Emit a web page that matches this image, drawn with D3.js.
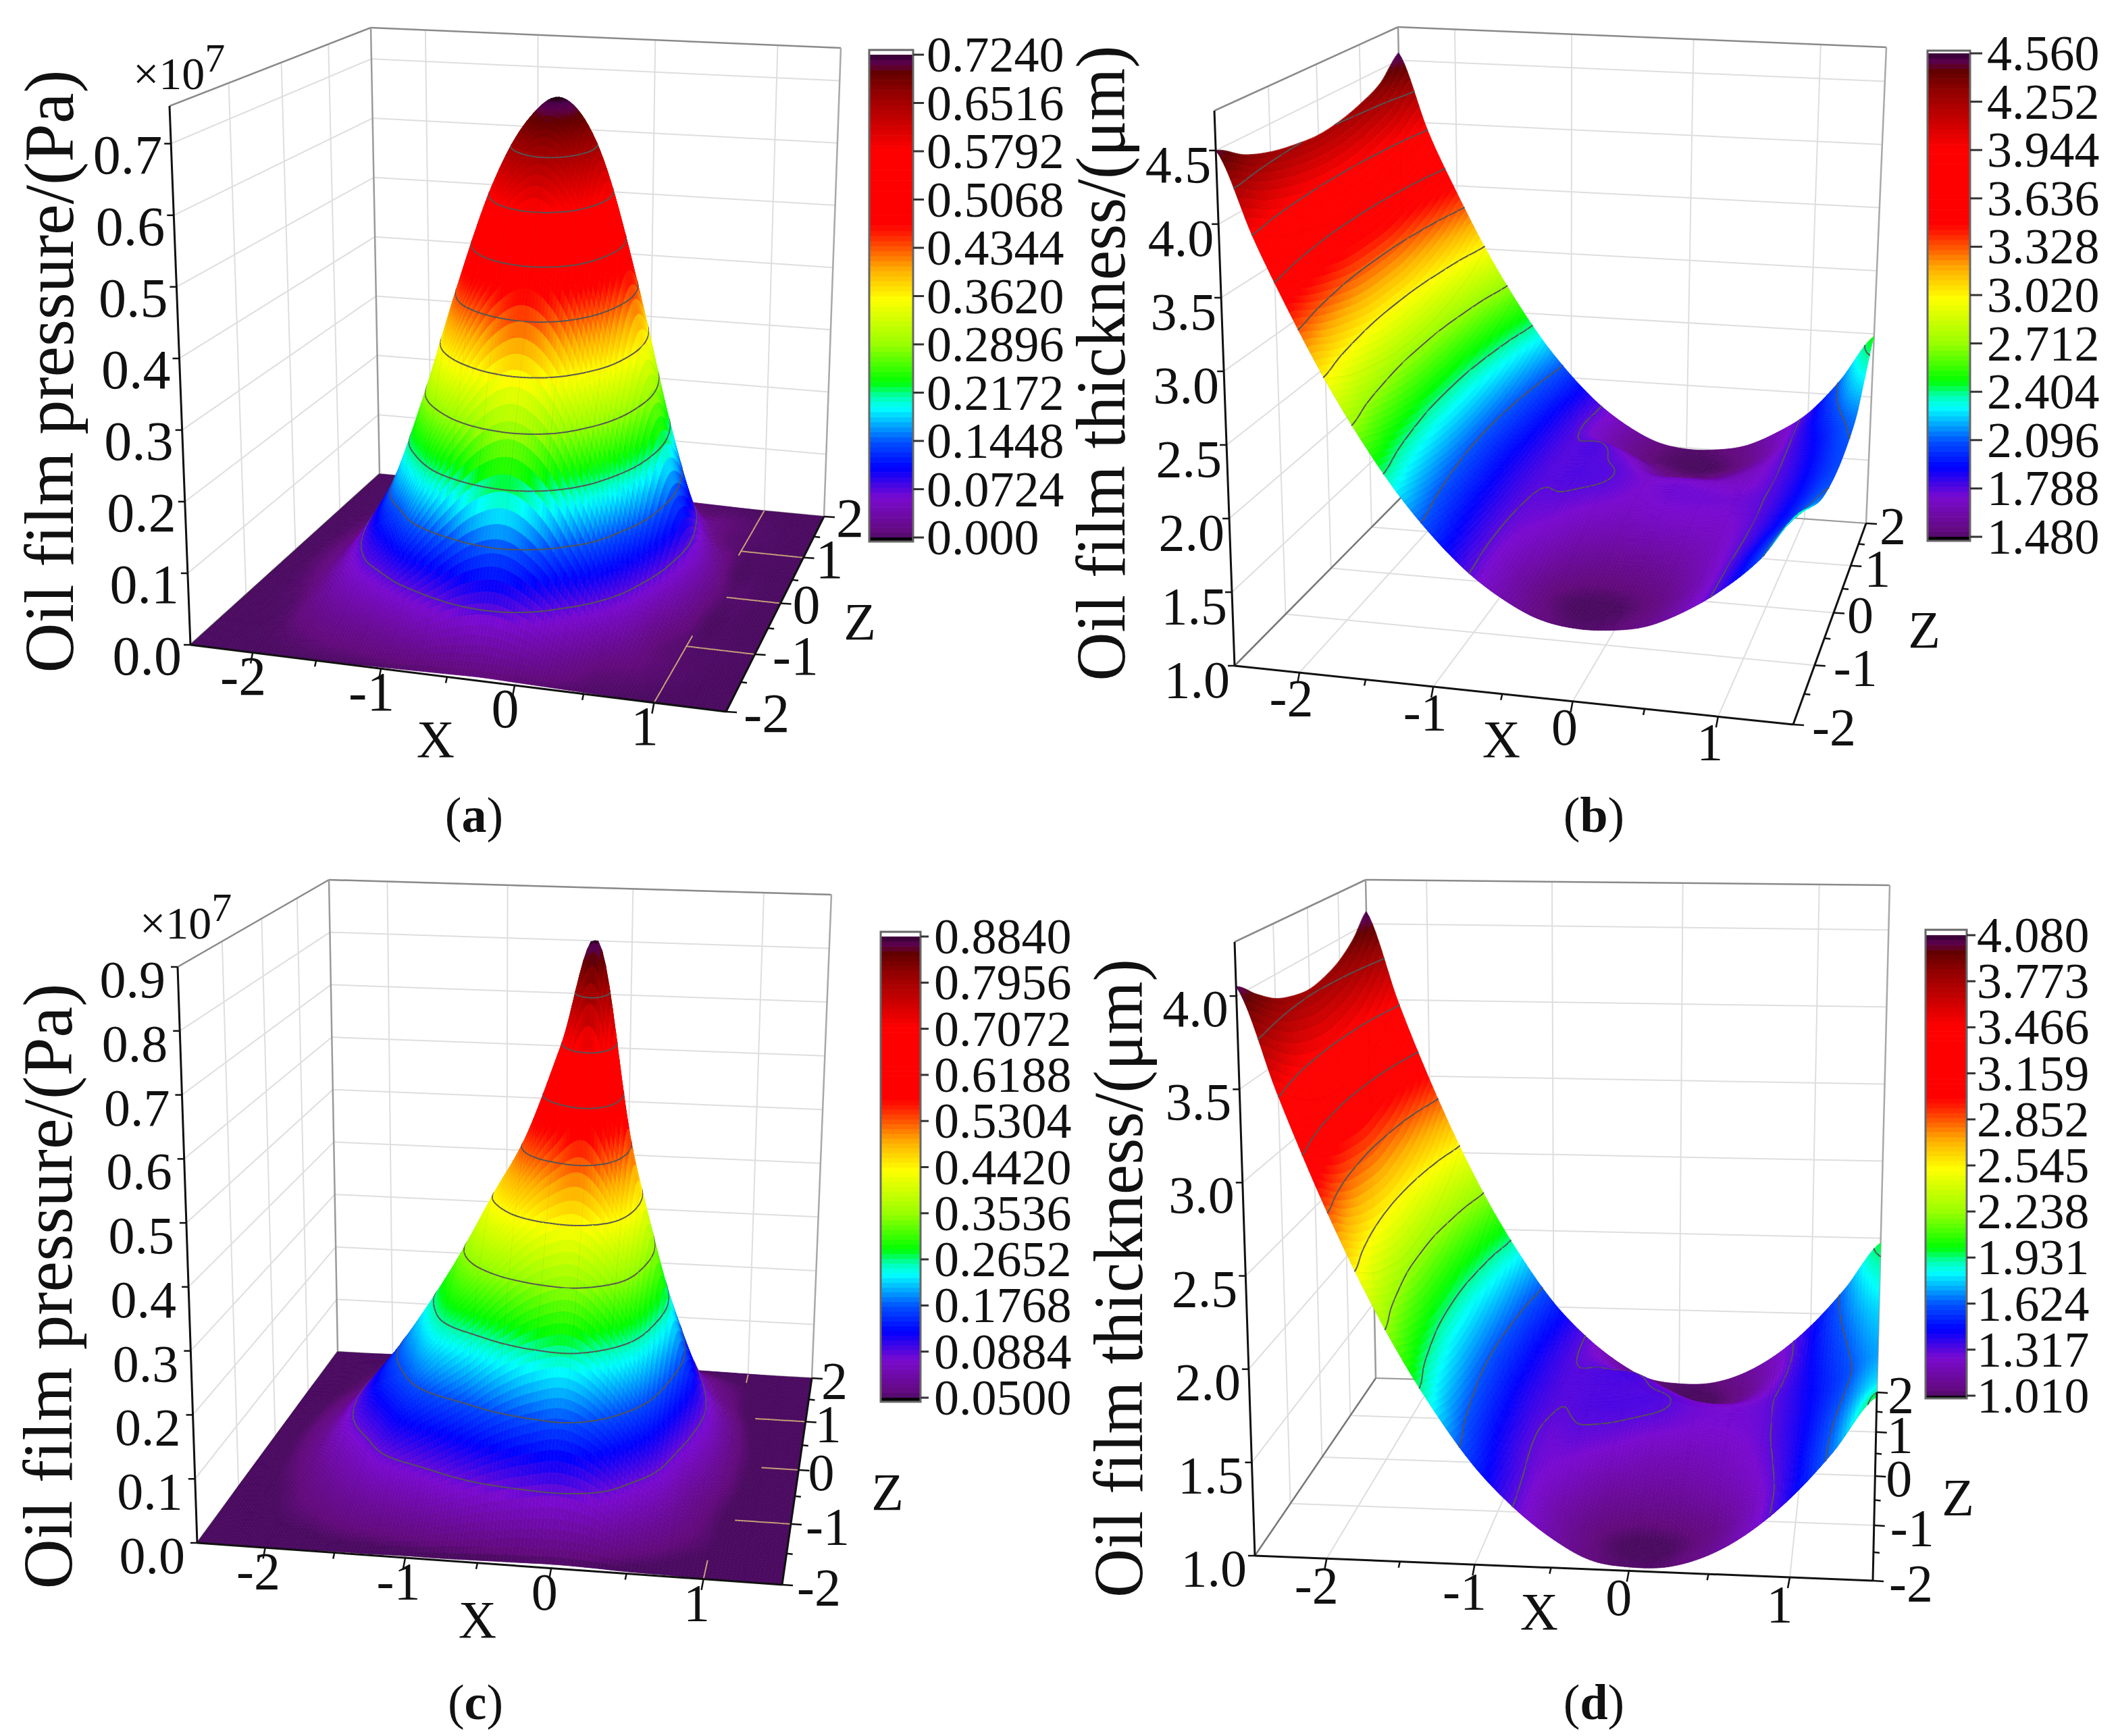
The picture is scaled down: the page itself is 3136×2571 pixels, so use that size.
<!DOCTYPE html>
<html>
<head>
<meta charset="utf-8">
<script src="https://cdn.jsdelivr.net/npm/d3@7"></script>
<style>
    body { margin: 0; background: #fff; }
    text { font-family: "Liberation Serif", serif; fill: #111; }
</style>
</head>
<body>
<script>
// grid of the surfaces: one row per z value, one column per x value
var xValues = [-2.5, -2.25, -2, -1.75, -1.5, -1.25, -1, -0.75, -0.5, -0.25, 0, 0.25, 0.5, 0.75, 1, 1.25, 1.5];
var zValues = [-2, -1.5, -1, -0.5, 0, 0.5, 1, 1.5, 2];

var pressureA = [
    [0, 0, 0, 0, .001, .001, .002, .003, .004, .005, .004, .003, .002, .001, 0, 0, 0],
    [0, 0, .002, .010, .022, .035, .060, .094, .127, .138, .112, .062, .020, .008, .003, .001, 0],
    [0, .001, .006, .035, .072, .123, .215, .304, .369, .391, .348, .239, .109, .020, .003, .001, 0],
    [0, .002, .015, .060, .130, .246, .384, .510, .597, .628, .568, .416, .224, .065, .006, .001, 0],
    [0, .003, .020, .080, .165, .297, .456, .597, .689, .724, .659, .491, .275, .091, .012, .002, 0],
    [0, .002, .015, .060, .130, .246, .384, .510, .597, .628, .568, .416, .224, .065, .006, .001, 0],
    [0, .001, .006, .035, .072, .123, .215, .304, .369, .391, .348, .239, .109, .020, .003, .001, 0],
    [0, 0, .002, .010, .022, .035, .060, .094, .127, .138, .112, .062, .020, .008, .003, .001, 0],
    [0, 0, 0, 0, .001, .001, .002, .003, .004, .005, .004, .003, .002, .001, 0, 0, 0]
];
var thicknessB = [
    [4.50, 3.93, 3.44, 3.00, 2.62, 2.29, 2.02, 1.80, 1.64, 1.53, 1.49, 1.50, 1.55, 1.67, 1.84, 2.07, 2.40],
    [4.375, 3.825, 3.335, 2.90, 2.53, 2.22, 1.975, 1.78, 1.63, 1.51, 1.48, 1.49, 1.54, 1.66, 1.83, 2.03, 2.27],
    [4.30, 3.75, 3.26, 2.835, 2.47, 2.17, 1.945, 1.78, 1.70, 1.60, 1.56, 1.57, 1.61, 1.69, 1.81, 1.97, 2.15],
    [4.26, 3.70, 3.21, 2.79, 2.43, 2.14, 1.93, 1.79, 1.76, 1.70, 1.67, 1.69, 1.70, 1.72, 1.80, 1.94, 2.09],
    [4.24, 3.69, 3.20, 2.78, 2.42, 2.13, 1.92, 1.80, 1.80, 1.78, 1.73, 1.75, 1.75, 1.75, 1.80, 1.93, 2.07],
    [4.26, 3.70, 3.21, 2.79, 2.43, 2.14, 1.93, 1.80, 1.80, 1.78, 1.72, 1.72, 1.71, 1.72, 1.80, 1.94, 2.09],
    [4.31, 3.75, 3.26, 2.835, 2.47, 2.17, 1.945, 1.80, 1.79, 1.70, 1.57, 1.56, 1.60, 1.69, 1.81, 1.97, 2.15],
    [4.39, 3.825, 3.335, 2.90, 2.53, 2.22, 1.975, 1.78, 1.63, 1.53, 1.49, 1.48, 1.52, 1.64, 1.83, 2.05, 2.32],
    [4.56, 3.93, 3.44, 3.00, 2.62, 2.29, 2.02, 1.80, 1.64, 1.53, 1.49, 1.50, 1.55, 1.67, 1.84, 2.12, 2.48]
];
var pressureC = [
    [0, 0, .001, .001, .002, .002, .003, .003, .004, .005, .006, .005, .003, .002, .001, 0, 0],
    [0, .002, .008, .016, .032, .049, .070, .098, .125, .145, .155, .128, .066, .024, .008, .001, 0],
    [.001, .005, .016, .044, .084, .141, .186, .225, .274, .309, .318, .265, .168, .053, .011, 0, 0],
    [.001, .008, .030, .084, .146, .208, .292, .371, .451, .513, .539, .438, .248, .097, .022, .001, 0],
    [.001, .010, .036, .097, .165, .245, .336, .442, .548, .707, .884, .530, .292, .124, .027, .002, 0],
    [.001, .008, .030, .084, .146, .208, .292, .371, .451, .513, .539, .438, .248, .097, .022, .001, 0],
    [.001, .005, .016, .044, .084, .141, .186, .225, .274, .309, .318, .265, .168, .053, .011, 0, 0],
    [0, .002, .008, .016, .032, .049, .070, .098, .125, .145, .155, .128, .066, .024, .008, .001, 0],
    [0, 0, .001, .001, .002, .002, .003, .003, .004, .005, .006, .005, .003, .002, .001, 0, 0]
];
var thicknessD = [
    [4.05, 3.49, 2.98, 2.53, 2.14, 1.81, 1.53, 1.32, 1.16, 1.05, 1.02, 1.03, 1.10, 1.23, 1.42, 1.67, 1.97],
    [3.95, 3.38, 2.87, 2.43, 2.05, 1.74, 1.49, 1.31, 1.16, 1.05, 1.01, 1.02, 1.08, 1.22, 1.42, 1.65, 1.88],
    [3.865, 3.295, 2.79, 2.36, 1.99, 1.70, 1.46, 1.30, 1.24, 1.14, 1.11, 1.12, 1.17, 1.26, 1.42, 1.62, 1.80],
    [3.82, 3.25, 2.75, 2.31, 1.95, 1.67, 1.45, 1.30, 1.30, 1.27, 1.21, 1.20, 1.23, 1.29, 1.42, 1.59, 1.75],
    [3.80, 3.23, 2.73, 2.30, 1.94, 1.66, 1.44, 1.32, 1.33, 1.33, 1.31, 1.27, 1.27, 1.30, 1.42, 1.57, 1.72],
    [3.82, 3.25, 2.75, 2.31, 1.95, 1.67, 1.45, 1.33, 1.33, 1.33, 1.32, 1.27, 1.26, 1.30, 1.42, 1.59, 1.75],
    [3.865, 3.295, 2.79, 2.36, 1.99, 1.70, 1.46, 1.33, 1.33, 1.32, 1.22, 1.13, 1.15, 1.26, 1.42, 1.62, 1.80],
    [3.95, 3.38, 2.87, 2.43, 2.05, 1.74, 1.49, 1.32, 1.25, 1.10, 1.03, 1.01, 1.07, 1.22, 1.42, 1.65, 1.88],
    [4.08, 3.49, 2.98, 2.53, 2.14, 1.81, 1.53, 1.32, 1.16, 1.05, 1.02, 1.03, 1.10, 1.23, 1.42, 1.67, 1.97]
];

// colour bar labels, bottom to top
var barLabelsA = ["0.000", "0.0724", "0.1448", "0.2172", "0.2896", "0.3620", "0.4344", "0.5068", "0.5792", "0.6516", "0.7240"];
var barLabelsB = ["1.480", "1.788", "2.096", "2.404", "2.712", "3.020", "3.328", "3.636", "3.944", "4.252", "4.560"];
var barLabelsC = ["0.0500", "0.0884", "0.1768", "0.2652", "0.3536", "0.4420", "0.5304", "0.6188", "0.7072", "0.7956", "0.8840"];
var barLabelsD = ["1.010", "1.317", "1.624", "1.931", "2.238", "2.545", "2.852", "3.159", "3.466", "3.773", "4.080"];

// axis ticks
var xTicks = [-2, -1, 0, 1];
var xMinorTicks = [-1.5, -0.5, 0.5];
var zTicks = [-2, -1, 0, 1, 2];
var zMinorTicks = [-1.5, -0.5, 0.5, 1.5];
var pressureTicksA = [0, 0.1, 0.2, 0.3, 0.4, 0.5, 0.6, 0.7];
var pressureTicksC = [0, 0.1, 0.2, 0.3, 0.4, 0.5, 0.6, 0.7, 0.8, 0.9];
var thicknessTicksB = [1, 1.5, 2, 2.5, 3, 3.5, 4, 4.5];
var thicknessTicksD = [1, 1.5, 2, 2.5, 3, 3.5, 4];

// rainbow used by all four colour bars
var colorStops = [0, .01, .083, .144, .198, .23, .268, .292, .322, .40, .494, .554, .594, .628, .648, .803, .87, .924, .965, .98, .992, 1];
var colorNames = ["#4a0a60", "#620a7c", "#7a0ad0", "#0000ff", "#0050ff", "#00a0ff", "#00ffff", "#00ffb0", "#00ff00", "#99ff00", "#ffff00",
    "#ffb000", "#ff6000", "#ff2000", "#ff0000", "#ff0000", "#c00000", "#900000", "#600000", "#5e0048", "#500050", "#200010"];

var panels = [
    {
        grid: pressureA, barLabels: barLabelsA, yTicks: pressureTicksA, yDomain: [0, 0.7526], yFormat: d3.format(".1f"),
        colorDomain: [0, 0.724], flatFloor: true, title: "Oil film pressure/(Pa)", caption: "a",
        fl: [282, 955], fr: [1075, 1054], bl: [562, 702], br: [1220, 765],
        flTop: [251, 157], frTop: [1100, 223], blTop: [549, 41], brTop: [1245, 71],
        bar: { x0: 1287, x1: 1352, top: 74, bottom: 802, tickTop: 81, tickBottom: 796, tickEnd: 1368, labelX: 1372 },
        titlePos: [108, 550], titleLen: 893, yLabel: [-13, 44], xLabel: [-14, 62], zLabel: [18, 30], tickFont: 82,
        xTitle: [645, 1121], zTitle: [1273, 947], exponent: [197, 132], captionPos: [702, 1232]
    },
    {
        grid: thicknessB, barLabels: barLabelsB, yTicks: thicknessTicksB, yDomain: [1, 4.77], yFormat: d3.format(".1f"),
        colorDomain: [1.48, 4.56], flatFloor: false, title: "Oil film thickness/(\u03bcm)", caption: "b",
        fl: [1828, 986], fr: [2655, 1073], bl: [2085, 726], br: [2763, 775],
        flTop: [1798, 164], frTop: [2683, 232], blTop: [2070, 40], brTop: [2793, 70],
        bar: { x0: 2854, x1: 2917, top: 75, bottom: 801, tickTop: 79, tickBottom: 795, tickEnd: 2935, labelX: 2942 },
        titlePos: [1665, 538], titleLen: 941, yLabel: [-7, 47], xLabel: [-12, 64], zLabel: [20, 30], tickFont: 78,
        xTitle: [2223, 1121], zTitle: [2849, 959], captionPos: [2360, 1232]
    },
    {
        grid: pressureC, barLabels: barLabelsC, yTicks: pressureTicksC, yDomain: [0, 0.9], yFormat: d3.format(".1f"),
        colorDomain: [0.006, 0.884], flatFloor: true, title: "Oil film pressure/(Pa)", caption: "c",
        fl: [292, 2285], fr: [1158, 2347], bl: [500, 2002], br: [1202, 2041],
        flTop: [263, 1432], frTop: [1185, 1477], blTop: [487, 1303], brTop: [1231, 1325],
        bar: { x0: 1304, x1: 1363, top: 1380, bottom: 2076, tickTop: 1387, tickBottom: 2070, tickEnd: 1375, labelX: 1383 },
        titlePos: [106, 1905], titleLen: 897, yLabel: [-18, 45], xLabel: [-10, 61], zLabel: [14, 30], tickFont: 78,
        xTitle: [707, 2425], zTitle: [1314, 2236], exponent: [207, 1390], captionPos: [704, 2546]
    },
    {
        grid: thicknessD, barLabels: barLabelsD, yTicks: thicknessTicksD, yDomain: [1, 4.29], yFormat: d3.format(".1f"),
        colorDomain: [1.01, 4.08], flatFloor: false, title: "Oil film thickness/(\u03bcm)", caption: "d",
        fl: [1858, 2304], fr: [2773, 2341], bl: [2037, 2041], br: [2779, 2062],
        flTop: [1828, 1395], frTop: [2790, 1419], blTop: [2022, 1303], brTop: [2798, 1311],
        bar: { x0: 2851, x1: 2912, top: 1377, bottom: 2071, tickTop: 1385, tickBottom: 2067, tickEnd: 2925, labelX: 2927 },
        titlePos: [1691, 1893], titleLen: 946, yLabel: [-12, 45], xLabel: [-15, 66], zLabel: [16, 30], tickFont: 78,
        xTitle: [2279, 2413], zTitle: [2899, 2244], captionPos: [2360, 2546]
    }
];

var bands = 96;
var rainbow = d3.scaleLinear().domain(colorStops).range(colorNames).clamp(true);

var svg = d3.select("body").append("svg")
    .attr("width", 3136)
    .attr("height", 2571)
    .style("display", "block");

function bend(u, w) { return u * w / (1 + u * (w - 1)); }
function mix(a, b, t) { return [a[0] + (b[0] - a[0]) * t, a[1] + (b[1] - a[1]) * t]; }

/// builds the box projection of a panel, from the eight corners of its box
function makeProjection(p) {
    var xScale = d3.scaleLinear().domain([-2.5, 1.5]).range([0, 1]),
        zScale = d3.scaleLinear().domain([-2, 2]).range([0, 1]),
        yScale = d3.scaleLinear().domain(p.yDomain).range([0, 1]);
    return function(x, y, z) {
        var u = bend(xScale(x), 0.92),
            v = bend(zScale(z), 1.25),
            low = mix(mix(p.fl, p.fr, u), mix(p.bl, p.br, u), v),
            high = mix(mix(p.flTop, p.frTop, u), mix(p.blTop, p.brTop, u), v);
        return mix(low, high, yScale(y));
    };
}

function catmull(a, b, c, d, t) {
    return 0.5 * (2 * b + (c - a) * t + (2 * a - 5 * b + 4 * c - d) * t * t + (3 * b - a - 3 * c + d) * t * t * t);
}

/// shading value between the grid nodes, used for painting only
function surfaceAt(grid, col, row) {
    var c = Math.min(Math.floor(col), xValues.length - 2),
        r = Math.min(Math.floor(row), zValues.length - 2),
        rowValues = [];
    function at(i, j) {
        return grid[Math.max(0, Math.min(zValues.length - 1, i))][Math.max(0, Math.min(xValues.length - 1, j))];
    }
    for (var i = r - 1; i <= r + 2; ++i) {
        rowValues.push(catmull(at(i, c - 1), at(i, c), at(i, c + 1), at(i, c + 2), col - c));
    }
    return catmull(rowValues[0], rowValues[1], rowValues[2], rowValues[3], row - r);
}

function line(g, a, b, color, width) {
    g.append("line")
        .attr("x1", a[0]).attr("y1", a[1])
        .attr("x2", b[0]).attr("y2", b[1])
        .attr("stroke", color)
        .attr("stroke-width", width);
}

function drawWalls(g, p, project) {
    var gridColor = "#dedede", yTop = p.yDomain[1], yLow = p.yDomain[0];
    p.yTicks.forEach(function(t) {
        line(g, project(-2.5, t, -2), project(-2.5, t, 2), gridColor, 2);
        line(g, project(-2.5, t, 2), project(1.5, t, 2), gridColor, 2);
    });
    xTicks.forEach(function(t) {
        line(g, project(t, yLow, 2), project(t, yTop, 2), gridColor, 2);
        line(g, project(t, yLow, -2), project(t, yLow, 2), gridColor, 2);
    });
    zTicks.slice(1, -1).forEach(function(t) {
        line(g, project(-2.5, yLow, t), project(-2.5, yTop, t), gridColor, 2);
        line(g, project(-2.5, yLow, t), project(1.5, yLow, t), gridColor, 2);
    });
    line(g, p.flTop, p.blTop, "#8a8a8a", 2.5);
    line(g, p.blTop, p.brTop, "#8a8a8a", 2.5);
    line(g, p.blTop, p.bl, "#9a9a9a", 2.5);
    line(g, p.brTop, p.br, "#a8a8a8", 2.5);
    line(g, p.fl, p.bl, "#777", 2.5);
    line(g, p.bl, p.br, "#999", 2);
}

function drawSurface(g, p, project) {
    var subX = 10, subZ = 12,
        nx = (xValues.length - 1) * subX,
        nz = (zValues.length - 1) * subZ,
        xOf = d3.scaleLinear().domain([0, nx]).range([-2.5, 1.5]),
        zOf = d3.scaleLinear().domain([0, nz]).range([-2, 2]),
        lo = d3.min(p.grid, function(r) { return d3.min(r); }),
        hi = d3.max(p.grid, function(r) { return d3.max(r); }),
        fracOf = d3.scaleLinear().domain(p.colorDomain).range([0, 1]).clamp(true),
        levels = p.barLabels.slice(1, -1).map(Number),
        values = [], points = [], marks = [];

    for (var j = 0; j <= nz; ++j) {
        values.push([]);
        points.push([]);
        for (var i = 0; i <= nx; ++i) {
            var v = Math.max(lo, Math.min(hi, surfaceAt(p.grid, i / subX, j / subZ)));
            values[j].push(v);
            points[j].push(project(xOf(i), v, zOf(j)));
        }
    }

    function fmt(pt) { return pt[0].toFixed(1) + "," + pt[1].toFixed(1); }

    // paint from the far corner to the near one
    for (j = nz - 1; j >= 0; --j) {
        for (i = 0; i < nx; ++i) {
            var a = points[j][i], b = points[j][i + 1], c = points[j + 1][i + 1], d = points[j + 1][i],
                va = values[j][i], vb = values[j][i + 1], vc = values[j + 1][i + 1], vd = values[j + 1][i],
                mean = (va + vb + vc + vd) / 4;
            marks.push({ d: "M" + fmt(a) + "L" + fmt(b) + "L" + fmt(c) + "L" + fmt(d) + "Z", color: rainbow(fracOf(mean)) });

            if (i % subX === 0) {
                marks.push({ d: "M" + fmt(a) + "L" + fmt(d), line: true, stroke: "rgba(0,0,0,0.05)", width: 1 });
            }
            if (j % subZ === 0) {
                marks.push({ d: "M" + fmt(a) + "L" + fmt(b), line: true, stroke: "rgba(0,0,0,0.05)", width: 1 });
            }
            levels.forEach(function(level) {
                var hits = [];
                function edge(p0, p1, v0, v1) {
                    if ((v0 < level) !== (v1 < level)) {
                        hits.push(mix(p0, p1, (level - v0) / (v1 - v0)));
                    }
                }
                edge(a, b, va, vb); edge(b, c, vb, vc); edge(c, d, vc, vd); edge(d, a, vd, va);
                if (hits.length >= 2) {
                    marks.push({ d: "M" + fmt(hits[0]) + "L" + fmt(hits[1]), line: true, stroke: "#555", width: 2 });
                }
            });
        }
    }

    g.selectAll("path.cell")
        .data(marks)
        .join("path")
        .attr("class", "cell")
        .attr("d", function(m) { return m.d; })
        .attr("fill", function(m) { return m.line ? "none" : m.color; })
        .attr("stroke", function(m) { return m.line ? m.stroke : m.color; })
        .attr("stroke-width", function(m) { return m.line ? m.width : 0.7; })
        .attr("stroke-linecap", "round");

    // floor grid shows through where the film lies on the floor
    if (p.flatFloor) {
        var tan = "#c8a478";
        function floorLine(x0, z0, x1, z1) {
            for (var s = 0; s < 40; ++s) {
                var xa = x0 + (x1 - x0) * s / 40, za = z0 + (z1 - z0) * s / 40,
                    xb = x0 + (x1 - x0) * (s + 1) / 40, zb = z0 + (z1 - z0) * (s + 1) / 40;
                if (surfaceAt(p.grid, (xa + 2.5) * 4, (za + 2) * 2) < 0.0035) {
                    line(g, project(xa, 0, za), project(xb, 0, zb), tan, 2);
                }
            }
        }
        floorLine(1, -2, 1, 2);
        zTicks.slice(1, -1).forEach(function(t) { floorLine(0.75, t, 1.5, t); });
    }
}

function drawAxes(g, p, project) {
    var yLow = p.yDomain[0], axisColor = "#111";
    line(g, p.flTop, p.fl, axisColor, 3);
    line(g, p.fl, p.fr, axisColor, 3);
    line(g, p.fr, p.br, axisColor, 3);

    p.yTicks.forEach(function(t) {
        var pt = project(-2.5, t, -2);
        line(g, pt, [pt[0] - 10, pt[1]], axisColor, 2.5);
        g.append("text")
            .attr("x", pt[0] + p.yLabel[0])
            .attr("y", pt[1] + p.yLabel[1])
            .attr("text-anchor", "end")
            .attr("font-size", p.tickFont)
            .text(p.yFormat(t));
    });
    xTicks.forEach(function(t) {
        var pt = project(t, yLow, -2);
        line(g, pt, [pt[0] - 3, pt[1] + 16], axisColor, 2.5);
        g.append("text")
            .attr("x", pt[0] + p.xLabel[0])
            .attr("y", pt[1] + p.xLabel[1])
            .attr("text-anchor", "middle")
            .attr("font-size", p.tickFont)
            .text(t);
    });
    xMinorTicks.forEach(function(t) {
        var pt = project(t, yLow, -2);
        line(g, pt, [pt[0] - 2, pt[1] + 9], axisColor, 2.5);
    });
    zTicks.forEach(function(t) {
        var pt = project(1.5, yLow, t);
        line(g, pt, [pt[0] + 16, pt[1] + 1], axisColor, 2.5);
        g.append("text")
            .attr("x", pt[0] + p.zLabel[0] + (t < 0 ? 8 : 0))
            .attr("y", pt[1] + p.zLabel[1])
            .attr("font-size", p.tickFont)
            .text(t);
    });
    zMinorTicks.forEach(function(t) {
        var pt = project(1.5, yLow, t);
        line(g, pt, [pt[0] + 9, pt[1] + 1], axisColor, 2.5);
    });

    g.append("text")
        .attr("transform", "translate(" + p.titlePos[0] + "," + p.titlePos[1] + ") rotate(-90)")
        .attr("text-anchor", "middle")
        .attr("font-size", 103)
        .attr("textLength", p.titleLen)
        .attr("lengthAdjust", "spacingAndGlyphs")
        .text(p.title);
    g.append("text").attr("x", p.xTitle[0]).attr("y", p.xTitle[1])
        .attr("text-anchor", "middle").attr("font-size", 78).text("X");
    g.append("text").attr("x", p.zTitle[0]).attr("y", p.zTitle[1])
        .attr("text-anchor", "middle").attr("font-size", 78).text("Z");

    if (p.exponent) {
        var exp = g.append("text")
            .attr("x", p.exponent[0]).attr("y", p.exponent[1])
            .attr("font-size", 68);
        exp.append("tspan").text("\u00d710");
        exp.append("tspan").attr("dy", -26).attr("font-size", 60).text("7");
    }

    var cap = g.append("text")
        .attr("x", p.captionPos[0]).attr("y", p.captionPos[1])
        .attr("text-anchor", "middle")
        .attr("font-size", 74);
    cap.append("tspan").text("(");
    cap.append("tspan").attr("font-weight", "bold").text(p.caption);
    cap.append("tspan").text(")");
}

function drawColorBar(g, p) {
    var b = p.bar,
        // the labels sit at even steps up the bar
        yOf = d3.scalePoint().domain(p.barLabels).range([b.tickBottom, b.tickTop]),
        fracY = d3.scaleLinear().domain([0, 1]).range([b.tickBottom, b.tickTop]),
        steps = d3.range(bands),
        h = (b.tickBottom - b.tickTop) / bands;

    g.append("rect").attr("x", b.x0).attr("y", b.top)
        .attr("width", b.x1 - b.x0).attr("height", b.bottom - b.top)
        .attr("fill", "#fff");
    g.selectAll("rect.band")
        .data(steps)
        .join("rect")
        .attr("class", "band")
        .attr("x", b.x0)
        .attr("y", function(d) { return fracY((d + 1) / bands); })
        .attr("width", b.x1 - b.x0)
        .attr("height", h + 0.6)
        .attr("fill", function(d) { return rainbow((d + 0.5) / bands); });
    g.append("rect").attr("x", b.x0).attr("y", b.tickBottom)
        .attr("width", b.x1 - b.x0).attr("height", b.bottom - b.tickBottom)
        .attr("fill", "#050005");
    g.append("rect").attr("x", b.x0).attr("y", b.top)
        .attr("width", b.x1 - b.x0).attr("height", b.bottom - b.top)
        .attr("fill", "none")
        .attr("stroke", "#666")
        .attr("stroke-width", 3);

    p.barLabels.forEach(function(label) {
        var y = yOf(label);
        line(g, [b.x1, y], [b.tickEnd, y], "#333", 3);
        g.append("text")
            .attr("x", b.labelX)
            .attr("y", y + 25)
            .attr("font-size", 74)
            .text(label);
    });
}

panels.forEach(function(p) {
    var g = svg.append("g"),
        project = makeProjection(p);
    drawWalls(g.append("g"), p, project);
    drawSurface(g.append("g"), p, project);
    drawAxes(g.append("g"), p, project);
    drawColorBar(g.append("g"), p);
});
</script>
</body>
</html>
